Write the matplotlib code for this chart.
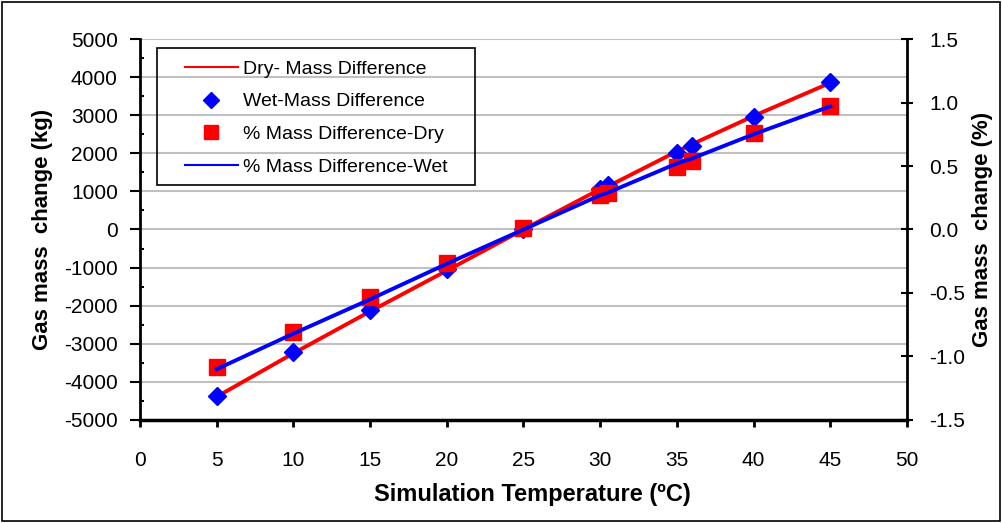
import matplotlib.pyplot as plt
from matplotlib.lines import Line2D
from matplotlib.patches import Rectangle
from matplotlib.ticker import MultipleLocator

plt.rcParams['font.family'] = ['Liberation Sans', 'DejaVu Sans']
plt.rcParams['axes.unicode_minus'] = False

temps = [5, 10, 15, 20, 25, 30, 30.5, 35, 36, 40, 45]
dry_mass = [-4390, -3250, -2150, -1080, 0, 1060, 1130, 2050, 2240, 2980, 3850]
wet_mass = [-4380, -3215, -2110, -1050, 0, 1050, 1160, 2010, 2190, 2950, 3870]
dry_pct = [-1.08, -0.81, -0.53, -0.26, 0.01, 0.27, 0.29, 0.49, 0.54, 0.76, 0.97]
wet_pct = [-1.10, -0.82, -0.55, -0.27, 0.0, 0.27, 0.29, 0.52, 0.56, 0.75, 0.97]

fig = plt.figure(figsize=(10.02, 5.23), dpi=100)
ax = fig.add_axes([0.1397, 0.197, 0.7655, 0.7284])
ax2 = ax.twinx()

ax.plot(temps, dry_mass, color='#ff0000', lw=2.8, zorder=3)
ax.plot(temps, wet_mass, 'D', color='#0000ff', ms=9, zorder=4)
ax2.plot(temps, dry_pct, 's', color='#ff0000', ms=11, zorder=3)
ax2.plot(temps, wet_pct, color='#0000ff', lw=2.8, zorder=4)

ax.set_xlim(0, 50)
ax.set_ylim(-5000, 5000)
ax2.set_ylim(-1.5, 1.5)
ax.xaxis.set_major_locator(MultipleLocator(5))
ax.yaxis.set_major_locator(MultipleLocator(1000))
ax.yaxis.set_minor_locator(MultipleLocator(500))
ax2.yaxis.set_major_locator(MultipleLocator(0.5))
ax2.yaxis.set_major_formatter(plt.FormatStrFormatter('%.1f'))

ax.grid(axis='y', color='#c0c0c0', lw=1.5)
ax.set_axisbelow(True)

for a in (ax, ax2):
    a.spines['top'].set_visible(False)
ax.spines['right'].set_visible(False)
ax.spines['left'].set_linewidth(2)
ax.spines['bottom'].set_linewidth(2.5)
ax2.spines['left'].set_visible(False)
ax2.spines['bottom'].set_visible(False)
ax2.spines['right'].set_linewidth(2)

ax.tick_params(axis='x', direction='out', length=5, width=2, labelsize=15, pad=17)
ax.tick_params(axis='y', which='major', direction='out', length=7, width=1.5, labelsize=15, pad=9)
ax.tick_params(axis='y', which='minor', direction='in', length=3, width=1.5)
ax2.tick_params(axis='y', direction='inout', length=8, width=1.5, labelsize=15, pad=12)

ax.set_xlabel('Simulation Temperature (\u00baC)', fontsize=17, fontweight='bold', labelpad=10)
ax.xaxis.label.set_x(0.512)
ax.set_ylabel('Gas mass  change (kg)', fontsize=16, fontweight='bold', labelpad=8)
ax2.set_ylabel('Gas mass  change (%)', fontsize=16, fontweight='bold', labelpad=5)

handles = [
    Line2D([], [], color='#ff0000', lw=1.5),
    Line2D([], [], ls='none', marker='D', color='#0000ff', ms=8),
    Line2D([], [], ls='none', marker='s', color='#ff0000', ms=10),
    Line2D([], [], color='#0000ff', lw=1.5),
]
labels = ['Dry- Mass Difference', 'Wet-Mass Difference',
          '% Mass Difference-Dry', '% Mass Difference-Wet']
leg = ax2.legend(handles, labels, loc='upper left', bbox_to_anchor=(0.0587, 0.945),
                 fontsize=14, frameon=False, handlelength=2.7, handletextpad=0.3,
                 labelspacing=0.78, borderpad=0, borderaxespad=0)
ax2.add_patch(Rectangle((0.022, 0.617), 0.4146, 0.3596, transform=ax2.transAxes,
                        fill=False, edgecolor='black', lw=1.2, zorder=5))

fig.patches.append(Rectangle((0.002, 0.003), 0.996, 0.994, transform=fig.transFigure,
                             fill=False, edgecolor='black', lw=1.2))

fig.savefig('out.png', dpi=100)
